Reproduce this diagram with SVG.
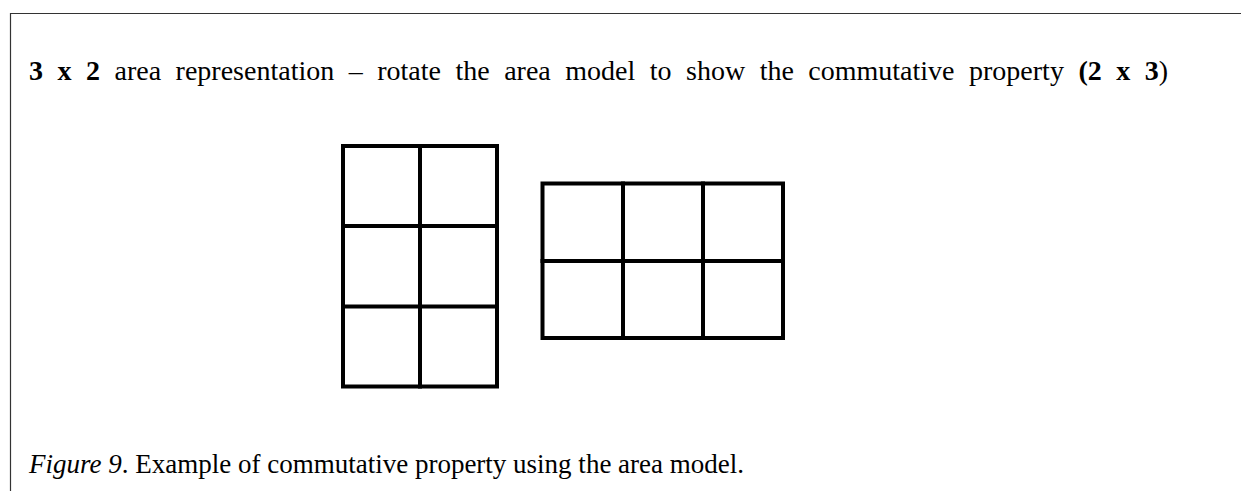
<svg xmlns="http://www.w3.org/2000/svg" width="1241" height="491" viewBox="0 0 1241 491">
<style>
.t{font-family:"Liberation Serif","Times New Roman",serif;font-size:27px;fill:#000}
.h{font-size:28px}
.b{font-weight:bold}
.i{font-style:italic}
.g{fill:none;stroke:#000;stroke-width:4;stroke-linecap:square}
</style>
<rect width="1241" height="491" fill="#fff"/>
<path d="M10.5 491 V13.5 H1241" fill="none" stroke="#333" stroke-width="1.2"/>
<text id="title" class="t h" x="29" y="80" word-spacing="7.5"><tspan class="b">3 x 2</tspan> area representation – rotate the area model to show the commutative property <tspan class="b">(2 x 3</tspan>)</text>
<g id="grid-3x2">
<rect class="g" x="343" y="146" width="154" height="240.5"/>
<path class="g" d="M420 146 V386.5 M343 226 H497 M343 306.5 H497"/>
</g>
<g id="grid-2x3">
<rect class="g" x="542.5" y="183.5" width="240.5" height="154.5"/>
<path class="g" d="M623 183.5 V338 M703 183.5 V338 M542.5 261 H783"/>
</g>
<text id="caption" class="t" x="29" y="473"><tspan class="i">Figure 9</tspan>. Example of commutative property using the area model.</text>
</svg>
